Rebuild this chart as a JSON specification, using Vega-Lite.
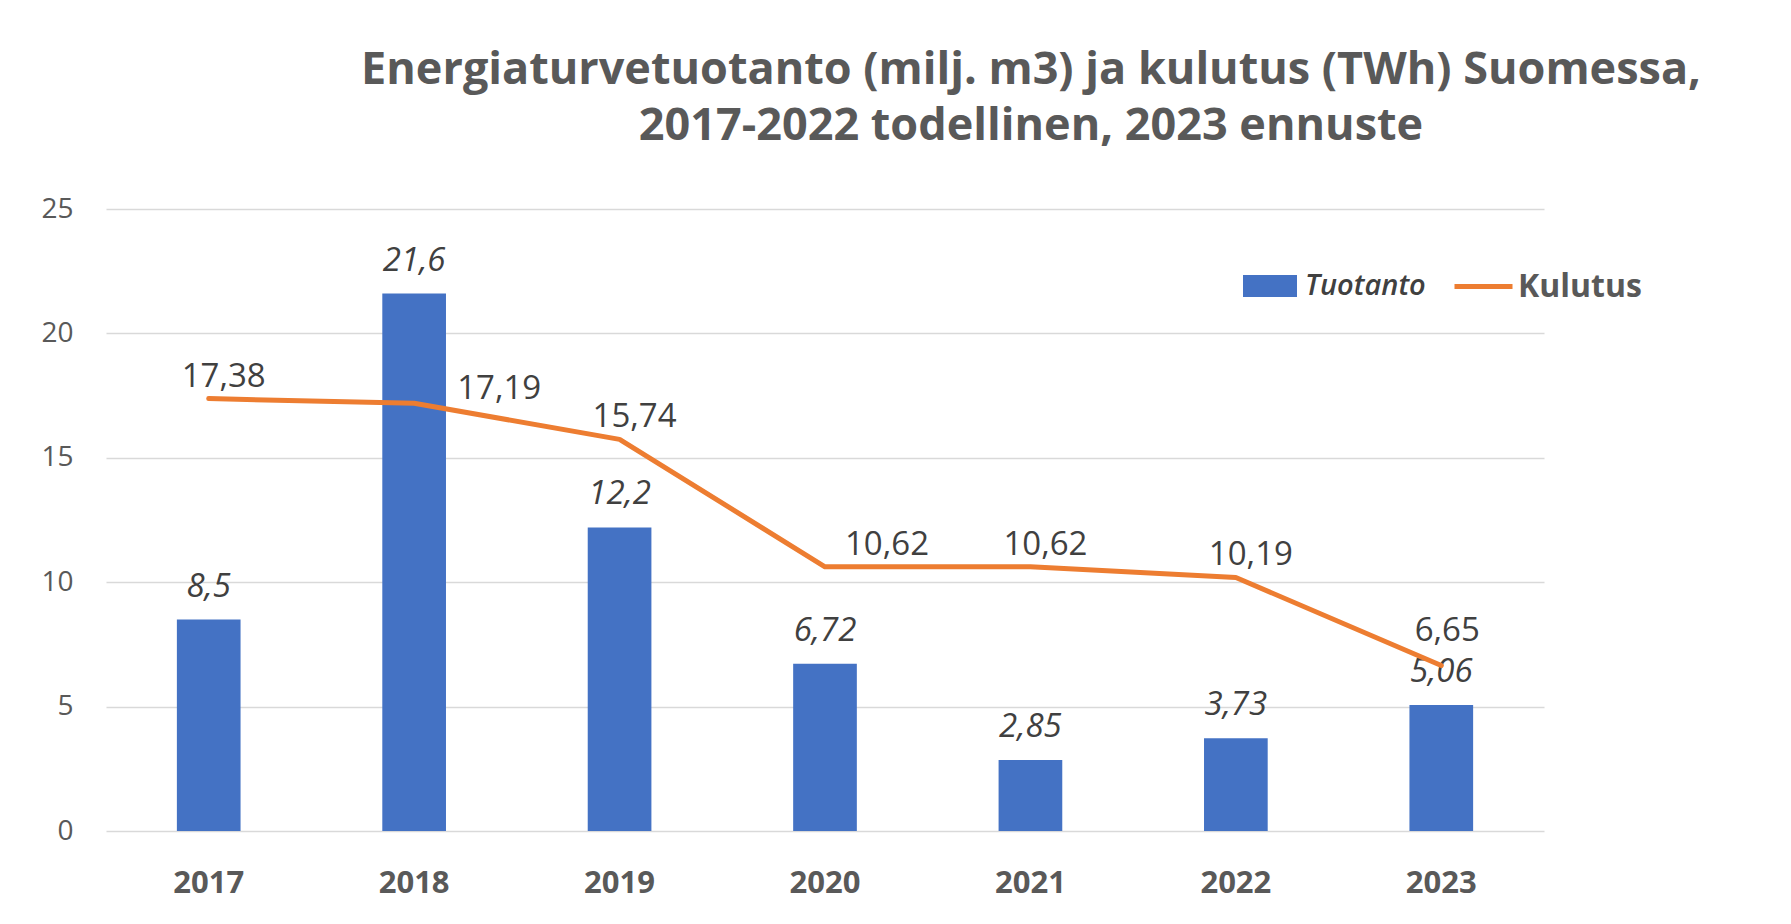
{
  "$schema": "https://vega.github.io/schema/vega-lite/v6.json",
  "autosize": {"type": "none"},
  "width": 1438,
  "height": 622,
  "padding": {"left": 106, "top": 209, "right": 247, "bottom": 93},
  "background": "white",
  "config": {
    "font": "Open Sans",
    "view": {"stroke": null},
    "locale": {"number": {"decimal": ",", "thousands": " ", "grouping": [3], "currency": ["", " €"]}}
  },
  "title": {
    "text": ["Energiaturvetuotanto (milj. m3) ja kulutus (TWh) Suomessa,", "2017-2022 todellinen, 2023 ennuste"],
    "font": "Open Sans",
    "fontSize": 45,
    "fontWeight": "bold",
    "color": "#595959",
    "lineHeight": 56,
    "anchor": "middle",
    "dx": 206,
    "offset": 46
  },
  "data": {
    "values": [
      {"year": "2017", "Tuotanto": 8.5, "Kulutus": 17.38},
      {"year": "2018", "Tuotanto": 21.6, "Kulutus": 17.19},
      {"year": "2019", "Tuotanto": 12.2, "Kulutus": 15.74},
      {"year": "2020", "Tuotanto": 6.72, "Kulutus": 10.62},
      {"year": "2021", "Tuotanto": 2.85, "Kulutus": 10.62},
      {"year": "2022", "Tuotanto": 3.73, "Kulutus": 10.19},
      {"year": "2023", "Tuotanto": 5.06, "Kulutus": 6.65}
    ]
  },
  "encoding": {
    "x": {
      "field": "year",
      "type": "nominal",
      "sort": null,
      "scale": {"paddingInner": 0.69, "paddingOuter": 0.345},
      "axis": {
        "title": null,
        "labelAngle": 0,
        "labelFont": "Open Sans",
        "labelFontSize": 31,
        "labelFontWeight": "bold",
        "labelColor": "#595959",
        "labelPadding": 37,
        "ticks": false,
        "domain": false,
        "grid": false
      }
    }
  },
  "layer": [
    {
      "mark": {"type": "bar", "color": "#4472C4"},
      "encoding": {
        "y": {
          "field": "Tuotanto",
          "type": "quantitative",
          "scale": {"domain": [0, 25], "nice": false},
          "axis": {
            "title": null,
            "values": [0, 5, 10, 15, 20, 25],
            "labelFont": "Open Sans",
            "labelFontSize": 28,
            "labelColor": "#595959",
            "labelPadding": 33,
            "ticks": false,
            "domain": false,
            "gridColor": "#D9D9D9",
            "gridWidth": 1.5
          }
        },
        "fill": {
          "datum": "Tuotanto",
          "scale": {"range": ["#4472C4"]},
          "legend": {
            "title": null,
            "orient": "none",
            "legendX": 1137,
            "legendY": 50,
            "symbolType": "M-1,-0.41H1V0.41H-1Z",
            "symbolSize": 2916,
            "symbolStrokeWidth": 0,
            "labelFont": "Open Sans",
            "labelFontSize": 29,
            "labelFontStyle": "italic",
            "labelFontWeight": 600,
            "labelColor": "#404040",
            "labelOffset": 8
          }
        }
      }
    },
    {
      "mark": {"type": "text", "baseline": "alphabetic", "dy": -23, "fontStyle": "italic", "fontSize": 33, "color": "#404040", "font": "Open Sans"},
      "encoding": {
        "y": {"field": "Tuotanto", "type": "quantitative"},
        "text": {"field": "Tuotanto", "type": "quantitative", "format": ".3~g"}
      }
    },
    {
      "mark": {"type": "line", "strokeWidth": 5, "strokeCap": "round", "strokeJoin": "round"},
      "encoding": {
        "y": {"field": "Kulutus", "type": "quantitative"},
        "stroke": {
          "datum": "Kulutus",
          "scale": {"range": ["#ED7D31"]},
          "legend": {
            "title": null,
            "orient": "none",
            "legendX": 1346,
            "legendY": 46,
            "symbolType": "stroke",
            "symbolSize": 3364,
            "symbolStrokeWidth": 5,
            "labelFont": "Open Sans",
            "labelFontSize": 32,
            "labelFontWeight": "bold",
            "labelColor": "#595959",
            "labelOffset": 3
          }
        }
      }
    },
    {
      "transform": [{"filter": "datum.year !== '2018' && datum.year !== '2020' && datum.year !== '2023'"}],
      "mark": {"type": "text", "baseline": "alphabetic", "dx": 15, "dy": -12, "fontSize": 33, "color": "#404040", "font": "Open Sans"},
      "encoding": {
        "y": {"field": "Kulutus", "type": "quantitative"},
        "text": {"field": "Kulutus", "type": "quantitative", "format": ".4~g"}
      }
    },
    {
      "transform": [{"filter": "datum.year === '2020'"}],
      "mark": {"type": "text", "baseline": "alphabetic", "dx": 62, "dy": -12, "fontSize": 33, "color": "#404040", "font": "Open Sans"},
      "encoding": {
        "y": {"field": "Kulutus", "type": "quantitative"},
        "text": {"field": "Kulutus", "type": "quantitative", "format": ".4~g"}
      }
    },
    {
      "transform": [{"filter": "datum.year === '2023'"}],
      "mark": {"type": "text", "baseline": "alphabetic", "dx": 6, "dy": -25, "fontSize": 33, "color": "#404040", "font": "Open Sans"},
      "encoding": {
        "y": {"field": "Kulutus", "type": "quantitative"},
        "text": {"field": "Kulutus", "type": "quantitative", "format": ".4~g"}
      }
    },
    {
      "transform": [{"filter": "datum.year === '2018'"}],
      "mark": {"type": "text", "baseline": "alphabetic", "align": "left", "dx": 43, "dy": -4, "fontSize": 33, "color": "#404040", "font": "Open Sans"},
      "encoding": {
        "y": {"field": "Kulutus", "type": "quantitative"},
        "text": {"field": "Kulutus", "type": "quantitative", "format": ".4~g"}
      }
    }
  ]
}
